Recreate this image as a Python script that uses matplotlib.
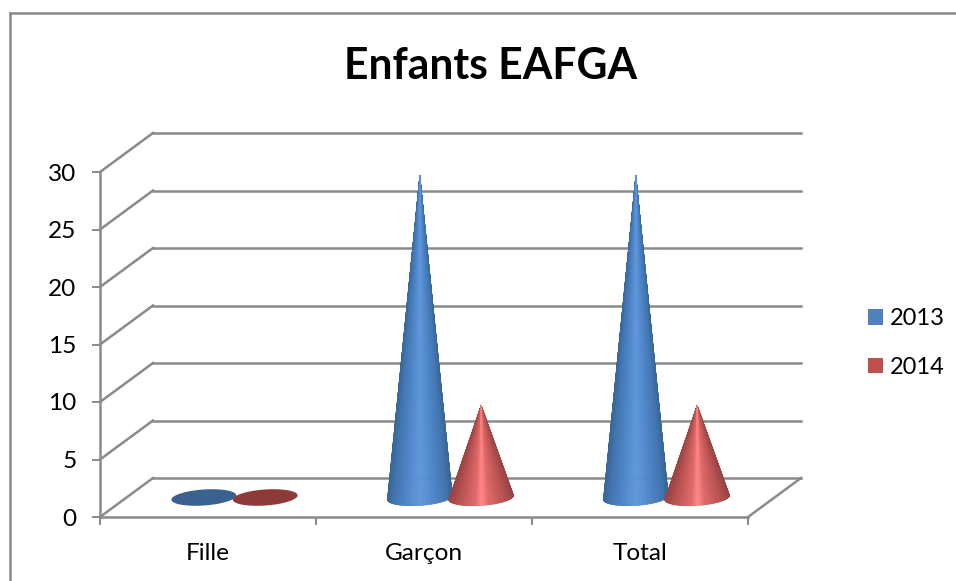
import numpy as np
import matplotlib
matplotlib.use("Agg")
import matplotlib.pyplot as plt
from matplotlib.collections import PolyCollection
from matplotlib.colors import to_rgb
from matplotlib.lines import Line2D
from matplotlib.patches import Polygon, Patch
from matplotlib.transforms import IdentityTransform

categories = ["Fille", "Garçon", "Total"]
series_names = ["2013", "2014"]
values_2013 = [0, 28, 28]
values_2014 = [0, 8, 8]
yticks = [0, 5, 10, 15, 20, 25, 30]
title = "Enfants EAFGA"

GRID = "#8A8A8A"
plt.rcParams["font.family"] = ["Lato", "DejaVu Sans"]

W, H = 956, 581
fig = plt.figure(figsize=(W / 100, H / 100), dpi=100)
ax = fig.add_axes([100 / W, (H - 517) / H, 648 / W, 345 / H])
ax.set_xlim(-0.5, 2.5)
ax.set_ylim(0, 30)
ax.patch.set_visible(False)
ax.spines["top"].set_visible(False)
ax.spines["right"].set_visible(False)
ax.spines["left"].set_color(GRID)
ax.spines["bottom"].set_color(GRID)
ax.spines["left"].set_linewidth(1.8)
ax.spines["bottom"].set_linewidth(1.8)

ax.set_yticks(yticks)
ax.set_xticks([-0.5, 0.5, 1.5, 2.5], minor=False)
ax.set_xticklabels([])
ax.set_xticks([0, 1, 2], minor=True)
ax.set_xticklabels(categories, minor=True)
ax.tick_params(axis="x", which="major", length=6, width=1.4, color=GRID)
ax.tick_params(axis="x", which="minor", length=0, labelsize=17.6, pad=19)
ax.tick_params(axis="y", length=6, width=1.4, color=GRID, labelsize=17.6, pad=11)

DX, DY = 53, 39


def to_px(x, y, depth=0.0):
    px, py = ax.transData.transform((x, y))
    return px + DX * depth, py + DY * depth


def px_line(p0, p1):
    fig.add_artist(Line2D([p0[0], p1[0]], [p0[1], p1[1]], color=GRID, lw=1.8,
                          transform=IdentityTransform(), zorder=1))


# back wall and side wall lines
for v in yticks:
    px_line(to_px(-0.5, v), to_px(-0.5, v, 1))
    px_line(to_px(-0.5, v, 1), to_px(2.5, v, 1))
px_line(to_px(2.5, 0), to_px(2.5, 0, 1))

BAR_OFFSET = 0.142
RX, RY = 32.5, 8
TILT = np.deg2rad(4)


def ellipse(cx, cy, t):
    ex = RX * np.cos(t)
    ey = RY * np.sin(t)
    return (cx + ex * np.cos(TILT) - ey * np.sin(TILT),
            cy + ex * np.sin(TILT) + ey * np.cos(TILT))


def shade(stops, u):
    cols = np.array([to_rgb(c) for _, c in stops])
    pos = [p for p, _ in stops]
    return [np.interp(u, pos, cols[:, i]) for i in range(3)]


def draw_cone(x, value, stops, flat_color):
    cx, cy = to_px(x, 0, 0.5)
    if value == 0:
        ex, ey = ellipse(cx, cy, np.linspace(0, 2 * np.pi, 80))
        fig.add_artist(Polygon(np.c_[ex, ey], closed=True, fc=flat_color, ec="none",
                               transform=IdentityTransform(), zorder=3))
        return
    _, tip_y = to_px(x, value, 0.5)
    ts = np.linspace(0, -np.pi, 121)
    ex, ey = ellipse(cx, cy, ts)
    polys = []
    colors = []
    # outer slices first so the tip ends up with the light colour
    order = sorted(range(len(ts) - 1), key=lambda i: -abs(np.cos((ts[i] + ts[i + 1]) / 2)))
    for i in order:
        polys.append([(cx, tip_y), (ex[i], ey[i]), (ex[i + 1], ey[i + 1])])
        colors.append(shade(stops, abs(np.cos((ts[i] + ts[i + 1]) / 2))))
    pc = PolyCollection(polys, facecolors=colors, edgecolors=colors, linewidths=0.4,
                        transform=IdentityTransform(), zorder=3)
    fig.add_artist(pc)


blue_stops = [(0, "#5E97DA"), (0.35, "#5088CB"), (0.8, "#4275B0"), (1, "#386592")]
red_stops = [(0, "#FF8585"), (0.2, "#DE6868"), (0.7, "#B85252"), (1, "#984343")]

for i in range(len(categories)):
    draw_cone(i - BAR_OFFSET, values_2013[i], blue_stops, "#3A6190")
    draw_cone(i + BAR_OFFSET, values_2014[i], red_stops, "#8F3A3A")

fig.text(491 / W, (H - 66) / H, title, fontsize=30.7, fontweight="bold",
         ha="center", va="center", color="black")

handles = [Patch(fc="#4F81BD", ec="none"), Patch(fc="#C0504D", ec="none")]
fig.legend(handles, series_names, loc="center left", bbox_to_anchor=(861 / W, (H - 343) / H),
           frameon=False, fontsize=17, handlelength=0.64, handleheight=0.64,
           handletextpad=0.3, labelspacing=1.17, borderpad=0, borderaxespad=0.3)

# chart border: left and top only
for p0, p1 in [((10, 0), (10, H - 13)), ((10, H - 13), (W, H - 13))]:
    px_line(p0, p1)

fig.savefig("out.png", dpi=100)
